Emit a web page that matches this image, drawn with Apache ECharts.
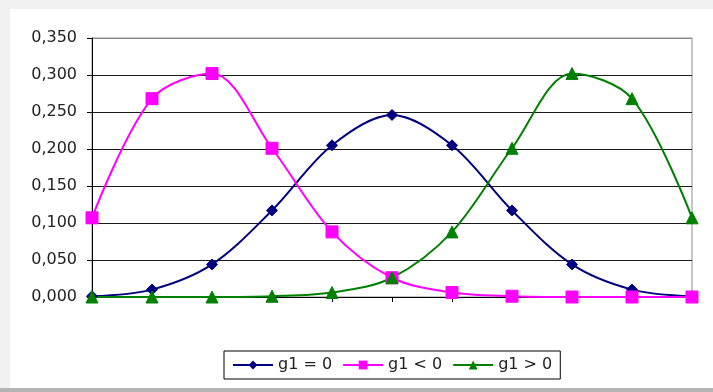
<!DOCTYPE html>
<html>
<head>
<meta charset="utf-8">
<script src="https://cdn.jsdelivr.net/npm/echarts@6/dist/echarts.min.js"></script>
<style>
html,body{margin:0;padding:0;width:713px;height:392px;overflow:hidden;background:#f1f1f1;}
#panel{position:absolute;left:10px;top:9px;width:703px;height:379px;background:#fff;}
#band{position:absolute;left:0;top:388px;width:713px;height:4px;background:#b4b4b4;}
#chart{position:absolute;left:0;top:0;width:713px;height:392px;}
</style>
</head>
<body>
<div id="panel"></div>
<div id="band"></div>
<div id="chart"></div>
<script>
var categories = ['0','1','2','3','4','5','6','7','8','9','10'];
var seriesNames = ['g1 = 0', 'g1 < 0', 'g1 > 0'];
var gEqual = [0.001, 0.010, 0.044, 0.117, 0.205, 0.246, 0.205, 0.117, 0.044, 0.010, 0.001];
var gLess  = [0.107, 0.268, 0.302, 0.201, 0.088, 0.026, 0.006, 0.001, 0.000, 0.000, 0.000];
var gMore  = [0.000, 0.000, 0.000, 0.001, 0.006, 0.026, 0.088, 0.201, 0.302, 0.268, 0.107];
var yTicks = [0, 0.05, 0.10, 0.15, 0.20, 0.25, 0.30, 0.35];

var chart = echarts.init(document.getElementById('chart'), null, {renderer:'canvas'});
var font = 'DejaVu Sans';
function mk(name, data, color, symbol, size){
  return {
    name: name, type: 'line', data: data, smooth: 0.33,
    symbol: symbol, symbolSize: size, showSymbol: true,
    lineStyle: {color: color, width: 2},
    itemStyle: {color: color, borderColor: color},
    emphasis: {disabled: true}
  };
}
chart.setOption({
  animation: false,
  grid: {left: 92, right: 21, top: 38, bottom: 95, show: true, borderColor: '#8c8c8c', borderWidth: 1, backgroundColor: 'transparent'},
  legend: {
    left: 224, top: 351,
    data: seriesNames,
    borderColor: '#000', borderWidth: 1,
    padding: [6, 8],
    itemWidth: 40, itemHeight: 11, itemGap: 10,
    textStyle: {fontFamily: font, fontSize: 16, color: '#222'}
  },
  xAxis: {
    type: 'category', data: categories, boundaryGap: false,
    axisLine: {lineStyle: {color: '#000', width: 1}},
    axisTick: {show: true, length: 5, lineStyle: {color: '#000'}},
    axisLabel: {show: false},
    splitLine: {show: false}
  },
  yAxis: {
    type: 'value', min: yTicks[0], max: yTicks[yTicks.length-1], interval: 0.05,
    axisLine: {show: true, lineStyle: {color: '#000', width: 1}},
    axisTick: {show: true, length: 5, lineStyle: {color: '#000'}},
    axisLabel: {
      margin: 15, fontFamily: font, fontSize: 16, color: '#222',
      formatter: function(v){ return v.toFixed(3).replace('.', ','); }
    },
    splitLine: {show: true, lineStyle: {color: ['#000','#1a1a1a','#1a1a1a','#1a1a1a','#1a1a1a','#1a1a1a','#1a1a1a','#8c8c8c'], width: 1}}
  },
  series: [
    mk(seriesNames[0], gEqual, '#000080', 'diamond', 11),
    mk(seriesNames[1], gLess, '#ff00ff', 'rect', 12),
    mk(seriesNames[2], gMore, '#008000', 'triangle', 12)
  ]
});
</script>
</body>
</html>
